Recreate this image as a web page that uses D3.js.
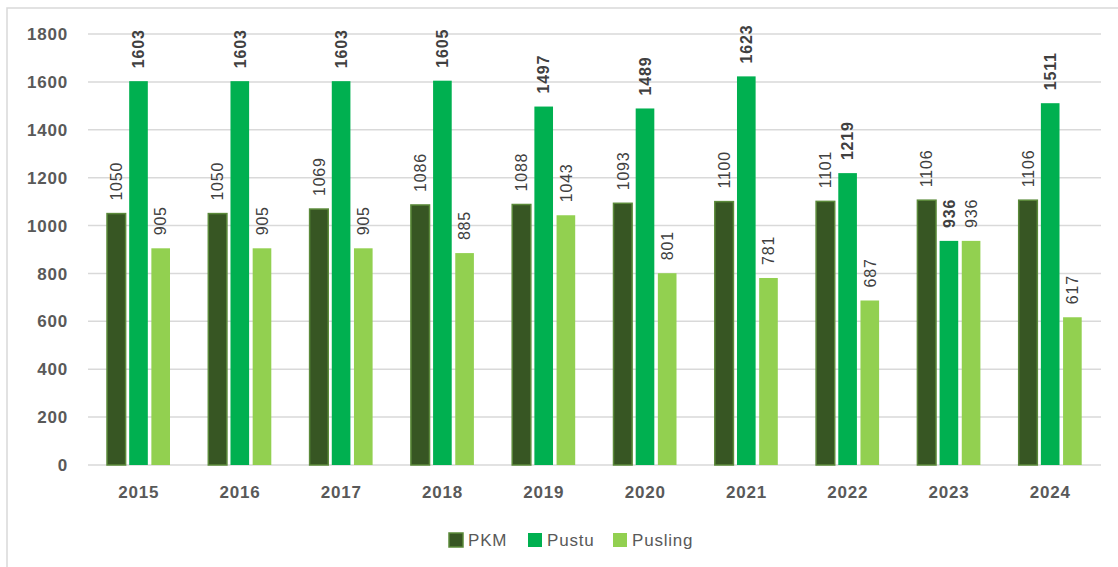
<!DOCTYPE html>
<html>
<head>
<meta charset="utf-8">
<script src="https://cdn.jsdelivr.net/npm/d3@7"></script>
<style>
  body { margin: 0; background: #fff; }
  svg { display: block; font-family: "Liberation Sans", Arial, sans-serif; }
</style>
</head>
<body>
<div id="chart"></div>
<script>
// chart data
var years = ["2015", "2016", "2017", "2018", "2019", "2020", "2021", "2022", "2023", "2024"];
var seriesNames = ["PKM", "Pustu", "Pusling"];
var pkm = [1050, 1050, 1069, 1086, 1088, 1093, 1100, 1101, 1106, 1106];
var pustu = [1603, 1603, 1603, 1605, 1497, 1489, 1623, 1219, 936, 1511];
var pusling = [905, 905, 905, 885, 1043, 801, 781, 687, 936, 617];
var yTicks = [0, 200, 400, 600, 800, 1000, 1200, 1400, 1600, 1800];

var colors = { PKM: "#375623", Pustu: "#00b050", Pusling: "#92d050" };
var values = { PKM: pkm, Pustu: pustu, Pusling: pusling };

var W = 1118, H = 567;
var svg = d3.select("#chart").append("svg").attr("width", W).attr("height", H);

// outer frame (only top and left edges fall inside the picture)
svg.append("rect").attr("x", 7).attr("y", 8).attr("width", W + 20).attr("height", H + 20)
  .attr("fill", "none").attr("stroke", "#d9d9d9").attr("stroke-width", 1.5);

var x0 = d3.scaleBand().domain(years).range([88, 1101]);
var x1 = d3.scaleBand().domain(seriesNames).range([19, 82]).paddingInner(0.16);
var y = d3.scaleLinear().domain([0, 1800]).range([465, 34]);

// gridlines
svg.append("g").selectAll("line").data(yTicks).join("line")
  .attr("x1", 88).attr("x2", 1101)
  .attr("y1", function (d) { return y(d); }).attr("y2", function (d) { return y(d); })
  .attr("stroke", "#d9d9d9").attr("stroke-width", 1.5);

// y tick labels
svg.append("g").selectAll("text").data(yTicks).join("text")
  .attr("x", 68).attr("y", function (d) { return y(d); })
  .attr("dy", "0.36em").attr("text-anchor", "end")
  .attr("font-size", 17).attr("font-weight", "bold").attr("letter-spacing", 0.8)
  .attr("fill", "#595959").text(function (d) { return d; });

// x labels
svg.append("g").selectAll("text").data(years).join("text")
  .attr("x", function (d) { return x0(d) + x0.bandwidth() / 2; }).attr("y", 492)
  .attr("dy", "0.36em").attr("text-anchor", "middle")
  .attr("font-size", 17).attr("font-weight", "bold").attr("letter-spacing", 0.8)
  .attr("fill", "#595959").text(function (d) { return d; });

// bars + labels
seriesNames.forEach(function (s) {
  var g = svg.append("g");
  var rows = years.map(function (yr, i) { return { year: yr, v: values[s][i] }; });
  g.selectAll("rect").data(rows).join("rect")
    .attr("x", function (d) { return x0(d.year) + x1(s); })
    .attr("y", function (d) { return y(d.v); })
    .attr("width", x1.bandwidth())
    .attr("height", function (d) { return y(0) - y(d.v); })
    .attr("fill", colors[s])
    .attr("stroke", s === "PKM" ? "#5b8a3a" : "none")
    .attr("stroke-width", 1.5);
  g.selectAll("text").data(rows).join("text")
    .attr("transform", function (d) {
      var cx = x0(d.year) + x1(s) + x1.bandwidth() / 2;
      return "translate(" + cx + "," + (y(d.v) - 13) + ") rotate(-90)";
    })
    .attr("dy", "0.36em").attr("text-anchor", "start")
    .attr("font-size", 16).attr("letter-spacing", 0.8)
    .attr("font-weight", s === "Pustu" ? "bold" : "normal")
    .attr("fill", "#404040").text(function (d) { return d.v; });
});

// legend
var legendX = [449, 528, 613];
var lg = svg.append("g");
seriesNames.forEach(function (s, i) {
  lg.append("rect").attr("x", legendX[i]).attr("y", 533).attr("width", 14).attr("height", 14)
    .attr("fill", colors[s]).attr("stroke", s === "PKM" ? "#5b8a3a" : "none").attr("stroke-width", 1.5);
  lg.append("text").attr("x", legendX[i] + 19).attr("y", 540).attr("dy", "0.36em")
    .attr("font-size", 17).attr("letter-spacing", 0.8).attr("fill", "#595959").text(s);
});
</script>
</body>
</html>
